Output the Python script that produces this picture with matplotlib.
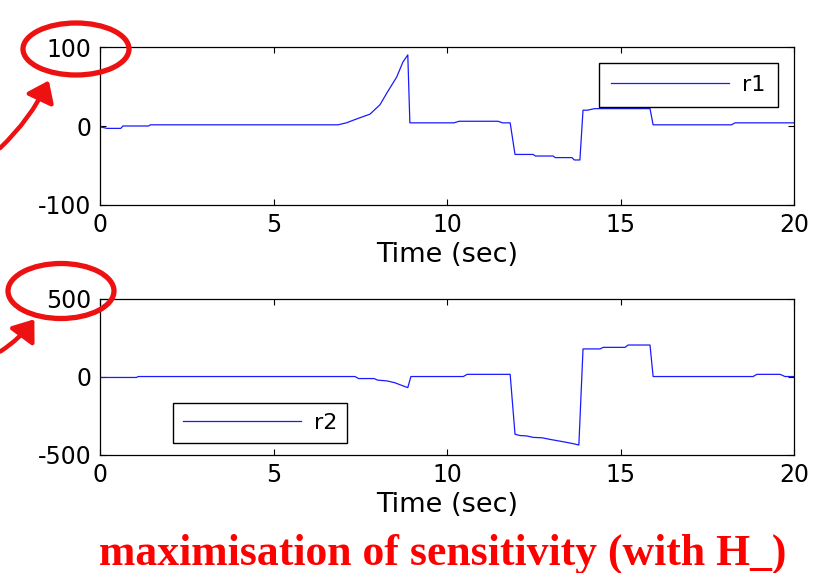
import matplotlib
matplotlib.use("Agg")
import matplotlib.pyplot as plt
from matplotlib.patches import Ellipse, FancyArrowPatch

############### Data ###############
t1 = [0, 0.2, 0.6, 0.66, 1.4, 1.45, 6.86, 7.1, 7.4, 7.78, 8.07, 8.27, 8.55, 8.73,
      8.87, 8.93, 10.2, 10.35, 11.47, 11.6, 11.82, 11.96, 12.48, 12.55, 13.06,
      13.12, 13.6, 13.67, 13.83, 13.92, 14.05, 14.25, 15.85, 15.94, 18.2, 18.3, 20]
r1 = [-1, -3, -3, 0, 0, 1.5, 1.5, 4, 9, 15, 27, 42, 62, 81,
      90, 4, 4, 6, 6, 4, 4, -36, -36, -38, -38,
      -40, -40, -43, -43, 20, 20, 22, 22, 1.5, 1.5, 4, 4]

t2 = [0, 1.05, 1.1, 7.35, 7.45, 7.9, 8.0, 8.27, 8.5, 8.65, 8.87, 8.96, 10.47,
      10.58, 11.82, 11.96, 12.1, 12.3, 12.48, 12.75, 12.97, 13.35, 13.63, 13.8,
      13.92, 14.41, 14.5, 15.13, 15.22, 15.85, 15.94, 18.82, 18.93, 19.6, 19.74, 20]
r2 = [-3, -3, 3, 3, -10, -10, -20, -25, -37, -50, -68, 3, 3,
      17, 17, -367, -375, -378, -387, -390, -400, -415, -427, -436,
      180, 180, 190, 190, 205, 205, 3, 3, 17, 17, 3, 3]

xticks = [0, 5, 10, 15, 20]
yticks1 = [-100, 0, 100]
yticks2 = [-500, 0, 500]
caption = "maximisation of sensitivity (with H_)"

############### Style ###############
plt.rcParams['font.family'] = ['DejaVu Sans']
plt.rcParams['font.size'] = 16
plt.rcParams['axes.unicode_minus'] = False

fig = plt.figure(figsize=(8.21, 5.73), dpi=100)


def style_axes(ax, yt, ylim):
    ax.set_xlim(0, 20)
    ax.set_ylim(*ylim)
    ax.set_xticks(xticks)
    ax.set_yticks(yt)
    ax.tick_params(direction='in', length=4.5, width=0.8, top=True, right=True,
                   labelsize=17, pad=6)
    ax.tick_params(axis='y', pad=6)
    for s in ax.spines.values():
        s.set_linewidth(0.9)
    ax.set_xlabel('Time (sec)', fontsize=19.5, labelpad=3)


############### Top plot ###############
ax1 = fig.add_axes([100/821, 1-205/573, 694/821, 158/573])
ax1.plot(t1, r1, color='#1a1aff', lw=0.9, label='r1')
style_axes(ax1, yticks1, (-100, 100))
ax1.legend(loc='upper right', bbox_to_anchor=(0.977, 0.899), borderaxespad=0,
           fancybox=False, framealpha=1, edgecolor='black', handlelength=5.3,
           fontsize=16, borderpad=0.55, handletextpad=0.6)

############### Bottom plot ###############
ax2 = fig.add_axes([100/821, 1-455/573, 694/821, 156/573])
ax2.plot(t2, r2, color='#1a1aff', lw=0.9, label='r2')
style_axes(ax2, yticks2, (-500, 500))
ax2.legend(loc='lower left', bbox_to_anchor=(0.105, 0.077), borderaxespad=0,
           fancybox=False, framealpha=1, edgecolor='black', handlelength=5.3,
           fontsize=16, borderpad=0.45, handletextpad=0.6)

############### Annotations (pixel coords overlay) ###############
ov = fig.add_axes([0, 0, 1, 1], zorder=10)
ov.set_xlim(0, 821)
ov.set_ylim(573, 0)
ov.axis('off')
ov.patch.set_alpha(0)

ov.add_patch(Ellipse((76, 49), 106, 52, fill=False, ec='#ee1111', lw=3.8))
ov.add_patch(Ellipse((61, 291), 106, 55, fill=False, ec='#ee1111', lw=3.8))

for start, end in [((-2, 150), (50, 78)), ((-2, 353), (36, 317))]:
    ov.add_patch(FancyArrowPatch(start, end, connectionstyle='arc3,rad=0.1',
                                 arrowstyle='-|>,head_length=8,head_width=6',
                                 color='#ee1111', lw=3.2, mutation_scale=1.5))

ov.text(443, 554, caption, color='#ff0000', fontsize=31.5, fontweight='bold',
        family=['Liberation Serif', 'DejaVu Serif'], ha='center', va='center')

fig.savefig('out.png', dpi=100)
